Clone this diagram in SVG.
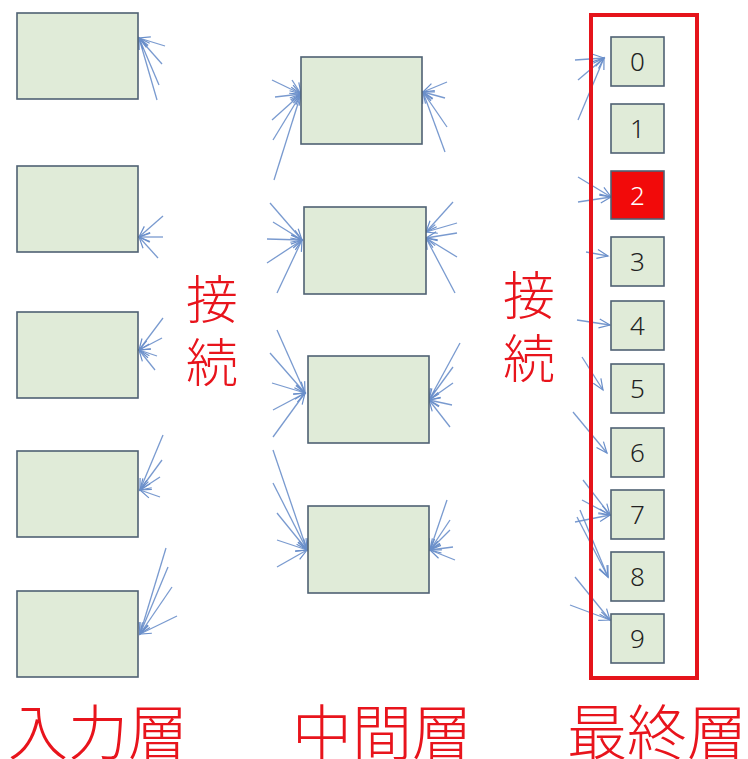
<svg xmlns="http://www.w3.org/2000/svg" width="748" height="759" viewBox="0 0 748 759">
<defs>
<marker id="ah" markerWidth="14" markerHeight="12" refX="12" refY="6" orient="auto" markerUnits="userSpaceOnUse">
<path d="M1,1.5 L12,6 L1,10.5" fill="none" stroke="#6a8fca" stroke-width="1.2"/>
</marker>
</defs>
<style>
.n{fill:#e0ebd8;stroke:#4f6173;stroke-width:1.6}
.c line{stroke:#6a8fca;stroke-width:1.3;stroke-opacity:0.9;marker-end:url(#ah)}
.d{font-family:"Noto Sans","Liberation Sans",sans-serif;font-size:26px;font-weight:300;fill:#222;text-anchor:middle}
.lbl{font-family:"Noto Sans CJK JP","Noto Sans CJK SC",sans-serif;font-weight:300;fill:#e8141c}
.v{writing-mode:vertical-rl;letter-spacing:11px}
</style>
<rect width="748" height="759" fill="#ffffff"/>
<g id="connectors" class="c">
<line x1="165" y1="46" x2="139" y2="38"/><line x1="162" y1="64" x2="139" y2="38"/><line x1="159" y1="85" x2="139" y2="38"/><line x1="157" y1="100" x2="139" y2="38"/>
<line x1="163" y1="216" x2="139" y2="237"/><line x1="163" y1="237" x2="139" y2="237"/><line x1="158" y1="258" x2="139" y2="237"/>
<line x1="163" y1="318" x2="139" y2="350"/><line x1="162" y1="338" x2="139" y2="350"/><line x1="157" y1="356" x2="139" y2="350"/><line x1="155" y1="370" x2="139" y2="350"/>
<line x1="163" y1="435" x2="140" y2="490"/><line x1="162" y1="460" x2="140" y2="490"/><line x1="160" y1="477" x2="140" y2="490"/><line x1="160" y1="497" x2="140" y2="490"/>
<line x1="166" y1="548" x2="140" y2="634"/><line x1="168" y1="567" x2="140" y2="634"/><line x1="172" y1="587" x2="140" y2="634"/><line x1="177" y1="616" x2="140" y2="634"/>
<line x1="272" y1="80" x2="301" y2="94"/><line x1="275" y1="97" x2="301" y2="94"/><line x1="272" y1="120" x2="301" y2="94"/><line x1="273" y1="140" x2="301" y2="94"/><line x1="274" y1="180" x2="301" y2="94"/><line x1="292" y1="80" x2="301" y2="94"/>
<line x1="447" y1="82" x2="423" y2="92"/><line x1="445" y1="98" x2="423" y2="92"/><line x1="447" y1="127" x2="423" y2="92"/><line x1="445" y1="152" x2="423" y2="92"/>
<line x1="270" y1="203" x2="302" y2="240"/><line x1="273" y1="222" x2="302" y2="240"/><line x1="267" y1="239" x2="302" y2="240"/><line x1="267" y1="263" x2="302" y2="240"/><line x1="277" y1="293" x2="302" y2="240"/>
<line x1="453" y1="202" x2="426" y2="232"/><line x1="457" y1="223" x2="426" y2="232"/><line x1="457" y1="233" x2="426" y2="238"/><line x1="457" y1="257" x2="426" y2="238"/><line x1="455" y1="293" x2="426" y2="238"/>
<line x1="277" y1="330" x2="305" y2="393"/><line x1="270" y1="353" x2="305" y2="393"/><line x1="272" y1="383" x2="305" y2="393"/><line x1="273" y1="410" x2="305" y2="393"/><line x1="273" y1="437" x2="305" y2="393"/>
<line x1="460" y1="343" x2="429" y2="400"/><line x1="453" y1="367" x2="429" y2="400"/><line x1="453" y1="383" x2="429" y2="400"/><line x1="452" y1="405" x2="429" y2="400"/><line x1="450" y1="427" x2="429" y2="400"/>
<line x1="273" y1="450" x2="307" y2="550"/><line x1="273" y1="483" x2="307" y2="550"/><line x1="277" y1="513" x2="307" y2="550"/><line x1="277" y1="540" x2="307" y2="550"/><line x1="277" y1="567" x2="307" y2="550"/>
<line x1="447" y1="500" x2="430" y2="550"/><line x1="450" y1="520" x2="430" y2="550"/><line x1="450" y1="530" x2="430" y2="550"/><line x1="453" y1="547" x2="430" y2="550"/><line x1="455" y1="560" x2="430" y2="550"/>
<line x1="575" y1="60" x2="604" y2="58"/><line x1="578" y1="80" x2="604" y2="58"/><line x1="578" y1="120" x2="604" y2="58"/>
<line x1="578" y1="177" x2="611" y2="197"/><line x1="578" y1="202" x2="611" y2="197"/>
<line x1="586" y1="252" x2="608" y2="256"/>
<line x1="577" y1="320" x2="610" y2="325"/>
<line x1="582" y1="357" x2="603" y2="390"/>
<line x1="573" y1="412" x2="607" y2="453"/>
<line x1="583" y1="480" x2="610" y2="515"/><line x1="582" y1="500" x2="610" y2="515"/><line x1="575" y1="522" x2="610" y2="515"/>
<line x1="577" y1="517" x2="608" y2="577"/><line x1="580" y1="510" x2="608" y2="577"/>
<line x1="570" y1="605" x2="610" y2="620"/><line x1="575" y1="577" x2="610" y2="620"/>
</g>
<g id="in1"><rect class="n" x="17" y="13" width="121" height="86"/></g>
<g id="in2"><rect class="n" x="17" y="166" width="121" height="86"/></g>
<g id="in3"><rect class="n" x="17" y="312" width="121" height="86"/></g>
<g id="in4"><rect class="n" x="17" y="451" width="121" height="86"/></g>
<g id="in5"><rect class="n" x="17" y="591" width="121" height="86"/></g>
<g id="mid1"><rect class="n" x="301" y="57" width="121" height="87"/></g>
<g id="mid2"><rect class="n" x="304" y="207" width="122" height="87"/></g>
<g id="mid3"><rect class="n" x="308" y="356" width="121" height="87"/></g>
<g id="mid4"><rect class="n" x="308" y="506" width="121" height="87"/></g>
<g id="outFrame"><rect x="591" y="15" width="106" height="663" fill="none" stroke="#e5141b" stroke-width="4"/></g>
<g id="out0"><rect class="n" x="611" y="37" width="53" height="49"/><text class="d" x="637.5" y="71">0</text></g>
<g id="out1"><rect class="n" x="611" y="104" width="53" height="49"/><text class="d" x="637.5" y="138">1</text></g>
<g id="out2"><rect x="611" y="171" width="53" height="48" fill="#f20a0a" stroke="#4f6173" stroke-width="1.6"/><text class="d" x="637.5" y="204.5" style="fill:#ffffff">2</text></g>
<g id="out3"><rect class="n" x="611" y="237" width="53" height="49"/><text class="d" x="637.5" y="271">3</text></g>
<g id="out4"><rect class="n" x="611" y="301" width="53" height="49"/><text class="d" x="637.5" y="335">4</text></g>
<g id="out5"><rect class="n" x="611" y="364" width="53" height="49"/><text class="d" x="637.5" y="398">5</text></g>
<g id="out6"><rect class="n" x="611" y="428" width="53" height="49"/><text class="d" x="637.5" y="462">6</text></g>
<g id="out7"><rect class="n" x="611" y="490" width="53" height="49"/><text class="d" x="637.5" y="524">7</text></g>
<g id="out8"><rect class="n" x="611" y="552" width="53" height="49"/><text class="d" x="637.5" y="586">8</text></g>
<g id="out9"><rect class="n" x="611" y="614" width="53" height="49"/><text class="d" x="637.5" y="648">9</text></g>
<g id="labels">
<text class="lbl v" x="212" y="273" font-size="52">接続</text>
<text class="lbl v" x="529" y="269" font-size="52">接続</text>
<text class="lbl" x="8" y="755" font-size="60">入力層</text>
<text class="lbl" x="292" y="755" font-size="60">中間層</text>
<text class="lbl" x="567" y="755" font-size="60">最終層</text>
</g>
</svg>
